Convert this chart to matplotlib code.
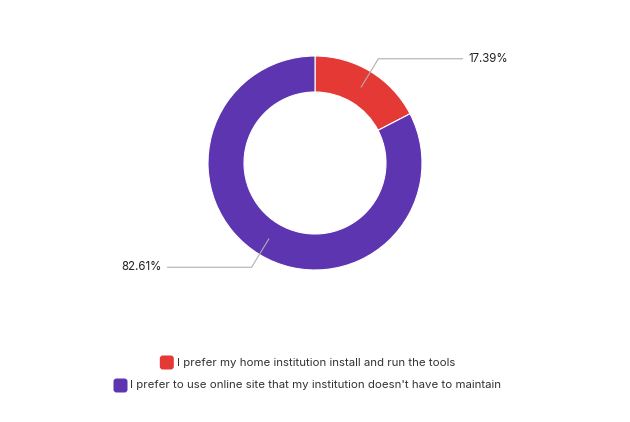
import numpy as np
import matplotlib
matplotlib.use("Agg")
import matplotlib.pyplot as plt
from matplotlib.patches import FancyBboxPatch

labels = ["I prefer my home institution install and run the tools",
          "I prefer to use online site that my institution doesn't have to maintain"]
values = [17.39, 82.61]
colors = ["#e53935", "#5e35b1"]

plt.rcParams['font.family'] = ['Inter', 'DejaVu Sans']

fig = plt.figure(figsize=(6.3, 4.22), dpi=100)
ax = fig.add_axes([0, 0, 1, 1])

cx, cy, R = 315, 422 - 163, 107
wedges, _ = ax.pie(values, colors=colors, startangle=90, counterclock=False,
                   radius=R, center=(cx, cy), frame=True,
                   wedgeprops=dict(width=36, edgecolor='white', linewidth=0.8))
ax.set_xlim(0, 630)
ax.set_ylim(0, 422)
ax.set_aspect('equal')
ax.axis('off')

# leader lines with percentage labels
start = 90
for v in values:
    ang = np.deg2rad(start - v * 360 / 100 / 2)
    start -= v * 360 / 100
    p1 = (cx + 89 * np.cos(ang), cy + 89 * np.sin(ang))
    p2 = (cx + 122 * np.cos(ang), cy + 122 * np.sin(ang))
    side = 1 if np.cos(ang) > 0 else -1
    p3 = (p2[0] + side * 84, p2[1])
    ax.plot([p1[0], p2[0], p3[0]], [p1[1], p2[1], p3[1]], color='#b0b0b0', lw=0.8)
    ax.text(p3[0] + side * 6, p3[1], f"{v:.2f}%", fontsize=8.3, color='#222222',
            ha='left' if side > 0 else 'right', va='center')

# legend rows, each centred on its own
for i, (lab, col) in enumerate(zip(labels, colors)):
    y = 422 - 362.5 - i * 23
    t = ax.text(cx + 1, y, lab, fontsize=8.25, color='#333333', ha='center', va='center')
    fig.canvas.draw()
    bb = t.get_window_extent()
    x0 = bb.x0 - 17
    ax.add_patch(FancyBboxPatch((x0, y - 7), 14, 14, boxstyle="round,pad=0,rounding_size=3",
                                facecolor=col, edgecolor='none'))

fig.savefig("out.png", dpi=100)
